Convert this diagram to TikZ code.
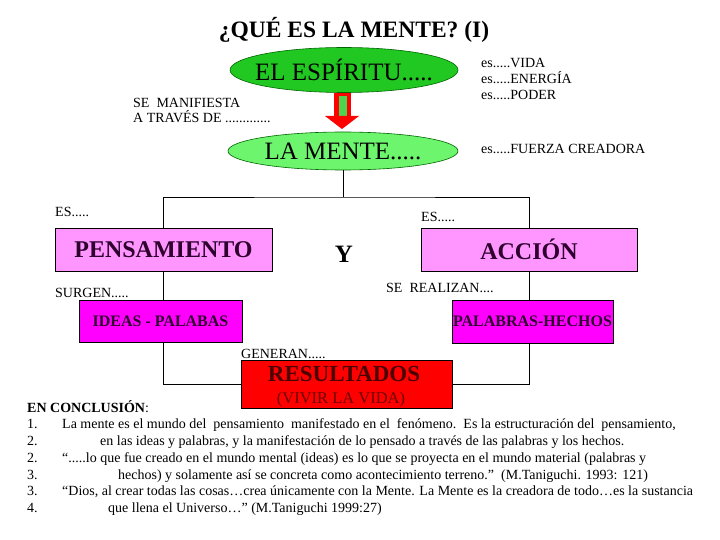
\documentclass[tikz,border=0pt]{standalone}
\usepackage{fontspec}
\setmainfont{Liberation Serif}
\usetikzlibrary{shapes.geometric}
\definecolor{grnA}{RGB}{34,200,34}
\definecolor{grnB}{RGB}{110,245,110}
\definecolor{pinkA}{RGB}{255,150,255}
\definecolor{magA}{RGB}{255,0,255}
\definecolor{txtP}{RGB}{45,0,45}
\definecolor{redA}{RGB}{255,0,0}
\definecolor{darkR}{RGB}{110,0,0}
\newcommand{\fs}[1]{\fontsize{#1}{#1}\selectfont}
\tikzset{
  lbl/.style={anchor=base west, inner sep=0, font=\fs{14}},
  ell/.style={ellipse, inner sep=0, draw=black!60!green, line width=0.6pt},
  pbox/.style={rectangle, draw=black, line width=0.6pt, inner sep=0, text=txtP},
  conn/.style={line width=0.8pt},
  cl/.style={anchor=base west, inner sep=0, font=\fs{14}},
}
\begin{document}
\begin{tikzpicture}[x=1pt,y=-1pt]
\useasboundingbox[fill=white] (0,0) rectangle (720,540);
\node[anchor=base, inner sep=0, font=\bfseries\fs{23.5}] (title) at (354,38) {¿QUÉ ES LA MENTE? (I)};

\node[ell, fill=grnA, minimum width=228, minimum height=45] (esp) at (344,70) {};
\node[inner sep=0, font=\fs{25}] (espt) at (esp.center) {EL ESPÍRITU.....};
\node[ell, fill=grnB, minimum width=230, minimum height=38] (mente) at (343,151) {};
\node[inner sep=0, font=\fs{25}] (mentet) at (mente.center) {LA MENTE.....};

% red arrow
\fill[redA] (334,93) rectangle (351,117);
\fill[grnA!80!white] (338.5,96) rectangle (346.5,116);
\fill[redA] (325,116) -- (359,116) -- (342,129) -- cycle;

\node[lbl] (v1) at (481,68) {es.....VIDA};
\node[lbl] (v2) at (481,83.5) {es.....ENERGÍA};
\node[lbl] (v3) at (481,99.5) {es.....PODER};
\node[lbl] (v4) at (481,154) {es.....FUERZA CREADORA};
\node[lbl] (m1) at (133,108) {SE\ \ MANIFIESTA};
\node[lbl] (m2) at (133,122.5) {A TRAVÉS DE .............};

\node[pbox, fill=pinkA, minimum width=217, minimum height=43, font=\bfseries\fs{24}] (pens) at (163.5,249.5) {PENSAMIENTO};
\node[pbox, fill=pinkA, minimum width=216, minimum height=43, font=\bfseries\fs{24}] (acc) at (529,249.5) {ACCIÓN};
\node[anchor=base, inner sep=0, font=\bfseries\fs{25}] (y) at (344,262) {Y};

\node[pbox, fill=magA, minimum width=163, minimum height=42, font=\bfseries\fs{16}] (ideas) at (160.5,321) {IDEAS - PALABAS};
\node[pbox, fill=magA, minimum width=161, minimum height=43, font=\bfseries\fs{16}] (hech) at (532.5,321.5) {PALABRAS-HECHOS};

\node[pbox, fill=redA, minimum width=211, minimum height=48] (res) at (346.5,384) {};
\node[anchor=base, inner sep=0, font=\bfseries\fs{23}, text=darkR!70!black] (rt) at (344,381) {RESULTADOS};
\node[anchor=base, inner sep=0, font=\fs{16.5}, text=darkR] (rv) at (341,403) {(VIVIR LA VIDA)};

\node[lbl] (es1) at (55,217) {ES.....};
\node[lbl] (es2) at (421,222) {ES.....};
\node[lbl] (sg) at (55,297) {SURGEN.....};
\node[lbl] (sr) at (386,292) {SE\ \ REALIZAN....};
\node[lbl] (gn) at (241,358) {GENERAN.....};

\coordinate (j) at (343,197);
\draw[conn] (mente.south) -- (j);
\draw[conn] (pens.north) |- (j) -| (acc.north);
\draw[conn] (pens.south) -- (pens.south |- ideas.north);
\draw[conn] (acc.south) -- (acc.south |- hech.north);
\draw[conn] (pens.south |- ideas.south) |- (res.west);
\draw[conn] (acc.south |- hech.south) |- (res.east);

\node[cl] (c0) at (27,412) {\textbf{EN CONCLUSIÓN}:};
\node[cl] (n1) at (27,428.5) {1.};
\node[cl] (n2) at (27,445.5) {2.};
\node[cl] (n3) at (27,462) {2.};
\node[cl] (n4) at (27,479) {3.};
\node[cl] (n5) at (27,495.5) {3.};
\node[cl] (n6) at (27,512.5) {4.};
\node[cl] (t1) at (62,428.5) {La mente es el mundo del\ \ pensamiento\ \ manifestado en el\ \ fenómeno.\ \ Es la estructuración del\ \ pensamiento,};
\node[cl] (t2) at (100,445.5) {en las ideas y palabras, y la manifestación de lo pensado a través de las palabras y los hechos.};
\node[cl] (t3) at (62,462) {“.....lo que fue creado en el mundo mental (ideas) es lo que se proyecta en el mundo material (palabras y};
\node[cl] (t4) at (118,479) {hechos) y solamente así se concreta como acontecimiento terreno.”\ \ (M.Taniguchi. 1993: 121)};
\node[cl] (t5) at (62,495.5) {“Dios, al crear todas las cosas…crea únicamente con la Mente. La Mente es la creadora de todo…es la sustancia};
\node[cl] (t6) at (108,512.5) {que llena el Universo…” (M.Taniguchi 1999:27)};
\end{tikzpicture}
\end{document}
